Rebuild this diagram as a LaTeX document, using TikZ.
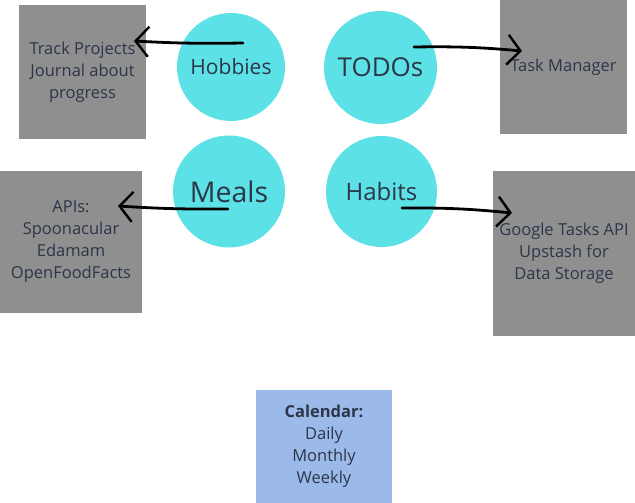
\documentclass[tikz,border=0pt]{standalone}
\usepackage{fontspec}
\setmainfont{Open Sans}
\usetikzlibrary{arrows.meta}
\definecolor{bubblefill}{HTML}{5CE1E6}
\definecolor{panelfill}{HTML}{8F8F8F}
\definecolor{calfill}{HTML}{9BBAEA}
\definecolor{ink}{HTML}{2C3648}
\begin{document}
\begin{tikzpicture}[x=1pt,y=-1pt,
  bubble/.style={circle, fill=bubblefill, inner sep=0pt, minimum size=110pt, text=ink},
  panel/.style={rectangle, fill=panelfill, inner sep=0pt, text=ink, align=center,
    font=\fontsize{16.5}{22}\selectfont},
  calpanel/.style={panel, fill=calfill},
  hand/.style={draw=black, line width=2.8pt, line cap=round,
    -{Straight Barb[length=13pt, width=30pt, line width=2.4pt]}}]
\useasboundingbox (0,0) rectangle (635,503);

% info panels
\node[panel, minimum width=127pt, minimum height=134pt] (track) at (82.5,72)
  {Track Projects\\Journal about\\progress};
\node[panel, minimum width=127pt, minimum height=134pt] (task) at (563.5,67)
  {Task Manager};
\node[panel, minimum width=142pt, minimum height=142pt] (apis) at (71,242)
  {APIs:\\Spoonacular\\Edamam\\OpenFoodFacts};
\node[panel, minimum width=142pt, minimum height=165pt] (google) at (564,253.5)
  {Google Tasks API\\Upstash for\\Data Storage};
\node[calpanel, minimum width=136pt, minimum height=113pt] (calendar) at (324,446.5)
  {\textbf{Calendar:}\\Daily\\Monthly\\Weekly};

% topic bubbles
\node[bubble, minimum size=108pt, font=\fontsize{21}{24}\selectfont] (hobbies) at (231,67) {Hobbies};
\node[bubble, minimum size=113pt, font=\fontsize{26}{30}\selectfont] (todos) at (380.5,67.5) {TODOs};
\node[bubble, minimum size=112pt, font=\fontsize{28.5}{32}\selectfont] (meals) at (229,191.5) {Meals};
\node[bubble, minimum size=111pt, font=\fontsize{24}{28}\selectfont] (habits) at (381.5,191.5) {Habits};

% arrow end points
\coordinate (hobS) at (243,43);
\coordinate (hobT) at (134,41);
\coordinate (todS) at (414,47);
\coordinate (todT) at (522,51);
\coordinate (meaS) at (228,209);
\coordinate (meaT) at (118,206);
\coordinate (habS) at (402,208);
\coordinate (habT) at (512,213);

\draw[hand] (hobS) to[bend left=2] (hobT);
\draw[hand] (todS) to[bend left=3] (todT);
\draw[hand] (meaS) to[bend left=2] (meaT);
\draw[hand] (habS) to[bend left=3] (habT);
\end{tikzpicture}
\end{document}
